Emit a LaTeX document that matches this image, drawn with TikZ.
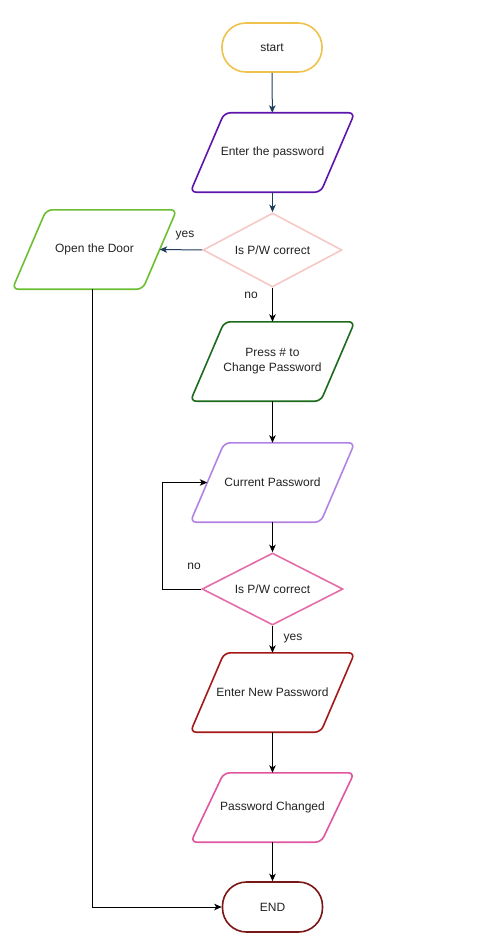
\documentclass[tikz,border=0pt]{standalone}
\usepackage{fontspec}
\setmainfont{Liberation Sans}
\usetikzlibrary{shapes.geometric,arrows.meta}
\definecolor{cStart}{HTML}{EEC24C}
\definecolor{cEnter}{HTML}{5E14AC}
\definecolor{cDec}{HTML}{F6C8C6}
\definecolor{cOpen}{HTML}{6CBF32}
\definecolor{cPress}{HTML}{1C6A1C}
\definecolor{cCur}{HTML}{B282E4}
\definecolor{cDecB}{HTML}{E46CA8}
\definecolor{cNew}{HTML}{A51818}
\definecolor{cChg}{HTML}{E0559F}
\definecolor{cEnd}{HTML}{7A1616}
\definecolor{cBlue}{HTML}{1F3E5C}
\definecolor{txt}{HTML}{222222}
\tikzset{
  base/.style={draw, line width=1.6pt, fill=white, font=\fontsize{12}{15}\selectfont, text=txt, align=center, inner sep=0pt},
  term/.style={base, rectangle, rounded corners=24pt, minimum width=100pt, minimum height=49pt},
  io/.style={rectangle, font=\fontsize{12}{15}\selectfont, text=txt, align=center, inner sep=0pt, minimum width=130pt, minimum height=79pt},
  ioline/.style={line width=1.6pt, rounded corners=6pt, line join=round},
  dec/.style={base, diamond, aspect=1.9, minimum width=139pt, minimum height=74pt},
  conn/.style={line width=1pt, -{Stealth[length=7.5pt,width=6.5pt,inset=2pt]}},
  lbl/.style={font=\fontsize{12}{15}\selectfont, text=txt, inner sep=0pt}
}
% parallelogram outline around a rectangular node: #1 name, #2 colour, #3 half offset
\newcommand\paraline[3]{%
  \draw[ioline, draw=#2]
    ([xshift=-#3pt]#1.south west) -- ([xshift=-#3pt]#1.south east) --
    ([xshift=#3pt]#1.north east) -- ([xshift=#3pt]#1.north west) -- cycle;}
\begin{document}
\begin{tikzpicture}[x=1pt,y=-1pt]
\useasboundingbox (0,0) rectangle (499,947);
\node[term, draw=cStart] (start) at (272,47.5) {start};
\node[io] (enter) at (272.5,152.5) {Enter the password};
\paraline{enter}{cEnter}{17}
\node[dec, draw=cDec] (d1) at (272.5,250) {Is P/W correct};
\node[io] (door) at (94.5,249.5) {Open the Door};
\paraline{door}{cOpen}{17}
\node[io] (press) at (272.5,361.5) {Press \# to\\Change Password};
\paraline{press}{cPress}{17}
\node[io] (cur) at (272.5,482.5) {Current Password};
\paraline{cur}{cCur}{17}
\node[dec, draw=cDecB, minimum width=141pt, minimum height=72pt] (d2) at (272.5,589) {Is P/W correct};
\node[io] (new) at (272.5,692.5) {Enter New Password};
\paraline{new}{cNew}{17}
\node[io, minimum height=69pt] (chg) at (272.5,807.5) {Password Changed};
\paraline{chg}{cChg}{16.5}
\node[term, draw=cEnd, minimum height=50pt] (end) at (272.5,907) {END};

\node[lbl] (yes1) at (185,236) {yes};
\node[lbl] (no1) at (251,295) {no};
\node[lbl] (no2) at (194,566) {no};
\node[lbl] (yes2) at (293,639) {yes};

\draw[conn, cBlue] (start) -- (enter);
\draw[conn, cBlue] (enter) -- (d1);
\draw[conn, cBlue] (d1.west) -- (door.east);
\draw[conn] (d1) -- (press);
\draw[conn] (press) -- (cur);
\draw[conn] (cur) -- (d2);
\draw[conn] (d2.west) -- ++(-39,0) |- (cur.west);
\draw[conn] (d2) -- (new);
\draw[conn] (new) -- (chg);
\draw[conn] (chg) -- (end);
\draw[conn] ([xshift=-2.5pt]door.south) |- (end.west);
\end{tikzpicture}
\end{document}
